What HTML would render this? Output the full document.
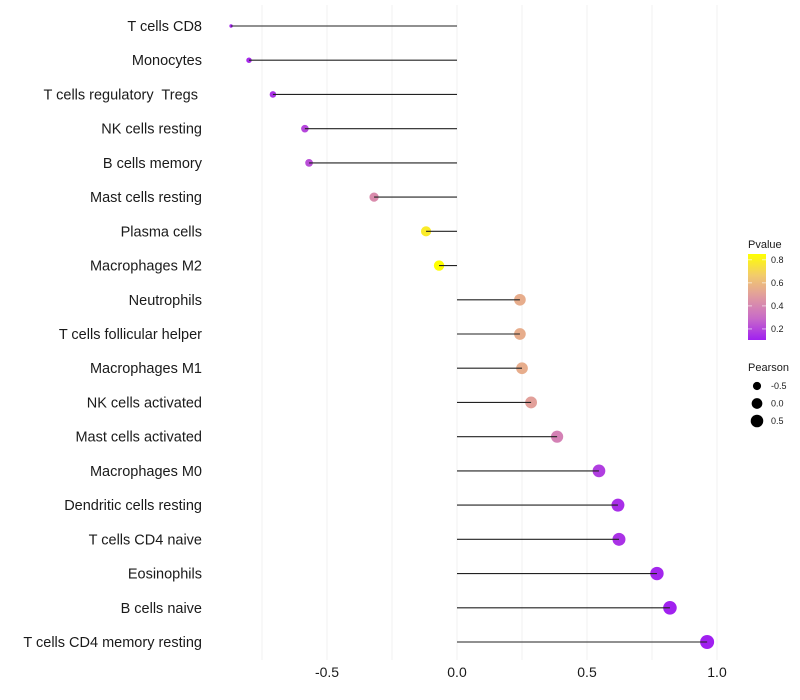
<!DOCTYPE html>
<html><head><meta charset="utf-8"><style>
body{margin:0;background:#fff;}
svg{display:block;font-family:"Liberation Sans",sans-serif;}
text{white-space:pre;}
</style></head><body>
<svg id="chart" width="800" height="700" viewBox="0 0 800 700">
<g id="grid"></g>
<g id="marks"></g>
<g id="ylabels"></g>
<g id="xlabels"></g>
<g id="legend"></g>
</svg>
<script>
const categories=["T cells CD8","Monocytes","T cells regulatory  Tregs ","NK cells resting","B cells memory","Mast cells resting","Plasma cells","Macrophages M2","Neutrophils","T cells follicular helper","Macrophages M1","NK cells activated","Mast cells activated","Macrophages M0","Dendritic cells resting","T cells CD4 naive","Eosinophils","B cells naive","T cells CD4 memory resting"];
const pearson=[-0.869,-0.80,-0.708,-0.585,-0.569,-0.319,-0.119,-0.069,0.242,0.242,0.25,0.285,0.385,0.546,0.619,0.623,0.769,0.819,0.962];
const pvalues=[0.12,0.13,0.15,0.2,0.22,0.42,0.78,0.85,0.55,0.55,0.55,0.5,0.38,0.18,0.14,0.15,0.12,0.11,0.1];
const xTicks=[-0.5,0,0.5,1];
const xTickLabels=["-0.5","0.0","0.5","1.0"];
const xMinor=[-0.75,-0.25,0.25,0.75];
const colorTicks=[0.2,0.4,0.6,0.8];
const sizeTicks=[-0.5,0,0.5];

const NS="http://www.w3.org/2000/svg";
function mk(t,a,p){const e=document.createElementNS(NS,t);for(const k in a)e.setAttribute(k,a[k]);p.appendChild(e);return e;}
const x=v=>457+260*v;
const y=i=>26+i*(616/18);
const pMin=0.104,pMax=0.85;
const cStops=[[160,32,240],[200,106,200],[224,154,160],[242,203,108],[255,255,0]];
function col(p){let t=(p-pMin)/(pMax-pMin);t=Math.max(0,Math.min(1,t));
 const s=t*4,i=Math.min(3,Math.floor(s)),f=s-i,a=cStops[i],b=cStops[i+1];
 const c=a.map((v,k)=>Math.round(v+(b[k]-v)*f));
 return `rgb(${c[0]},${c[1]},${c[2]})`;}
const vMin=Math.min(...pearson),vMax=Math.max(...pearson);
const r=v=>1.7+5.3*Math.sqrt(Math.max(0,(v-vMin)/(vMax-vMin)));

const grid=document.getElementById('grid');
xMinor.concat(xTicks).forEach(v=>{const l=mk('line',{x1:x(v),x2:x(v),y1:5,y2:660,stroke:'#f0f0f0','stroke-width':1},grid);

});

const marks=document.getElementById('marks');
const yl=document.getElementById('ylabels');
categories.forEach((c,i)=>{
 const cy=y(i);
 const pt=mk('circle',{cx:x(pearson[i]),cy:cy,r:r(pearson[i]),fill:col(pvalues[i])},marks);
 
 
 const ln=mk('line',{x1:x(0),x2:x(pearson[i]),y1:cy,y2:cy,stroke:'#222','stroke-width':1.1},marks);
 
 
 const t=mk('text',{x:202,y:cy+5,'text-anchor':'end','font-size':14.5,fill:'#1a1a1a'},yl);
 t.textContent=c;
 
 
});
const xl=document.getElementById('xlabels');
xTicks.forEach((v,i)=>{const t=mk('text',{x:x(v),y:677,'text-anchor':'middle','font-size':14,fill:'#1a1a1a'},xl);
t.textContent=xTickLabels[i];

});

const lg=document.getElementById('legend');
mk('text',{x:748,y:248,'font-size':11,fill:'#1a1a1a'},lg).textContent='Pvalue';
const defs=mk('defs',{},lg);
const grad=mk('linearGradient',{id:'pg',x1:0,y1:1,x2:0,y2:0},defs);
for(let k=0;k<=20;k++){const p=pMin+(pMax-pMin)*k/20;mk('stop',{offset:k/20,'stop-color':col(p)},grad);}
const bar=mk('rect',{x:748,y:254,width:18,height:86,fill:'url(#pg)'},lg);


const cy2=p=>340-(p-pMin)*115.3;
colorTicks.forEach(p=>{mk('line',{x1:748,x2:752,y1:cy2(p),y2:cy2(p),stroke:'#fff','stroke-opacity':0.6},lg);mk('line',{x1:762,x2:766,y1:cy2(p),y2:cy2(p),stroke:'#fff','stroke-opacity':0.6},lg);
const t=mk('text',{x:771,y:cy2(p)+3,'font-size':9,fill:'#1a1a1a'},lg);t.textContent=p.toFixed(1);

});
mk('text',{x:748,y:371,'font-size':11,fill:'#1a1a1a'},lg).textContent='Pearson';
sizeTicks.forEach((v,i)=>{const yy=386+i*17.5;const c=mk('circle',{cx:757,cy:yy,r:r(v),fill:'#000'},lg);


const t=mk('text',{x:771,y:yy+3,'font-size':9,fill:'#1a1a1a'},lg);t.textContent=v.toFixed(1);

});
</script>
</body></html>
